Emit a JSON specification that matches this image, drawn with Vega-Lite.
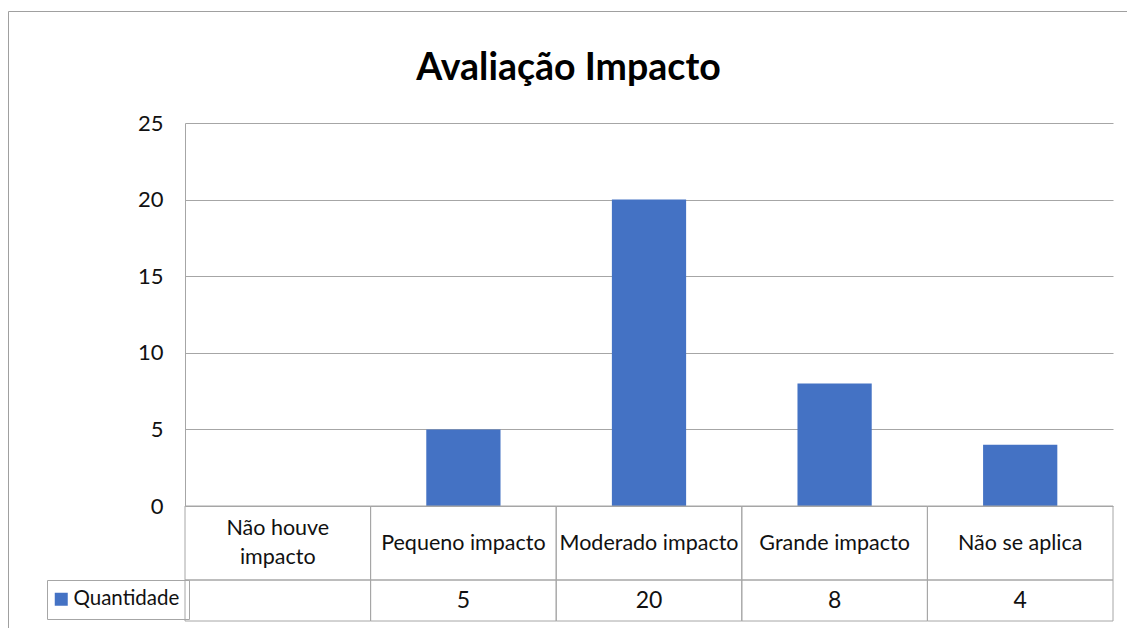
{
  "$schema": "https://vega.github.io/schema/vega-lite/v6.json",
  "width": 1121,
  "height": 619,
  "autosize": {"type": "none"},
  "padding": {"left": 8, "top": 11, "right": -2, "bottom": -2},
  "background": "white",
  "config": {
    "font": "Lato",
    "view": {"stroke": "#a0a0a0", "strokeWidth": 1}
  },
  "title": {
    "text": "Avaliação Impacto",
    "anchor": "middle",
    "offset": -106,
    "baseline": "alphabetic",
    "fontSize": 37.5,
    "fontWeight": "bold",
    "color": "#000000"
  },
  "data": {
    "values": [
      {"categoria": "Não houve impacto", "quantidade": null},
      {"categoria": "Pequeno impacto", "quantidade": 5},
      {"categoria": "Moderado impacto", "quantidade": 20},
      {"categoria": "Grande impacto", "quantidade": 8},
      {"categoria": "Não se aplica", "quantidade": 4}
    ]
  },
  "layer": [
    {
      "mark": {"type": "bar"},
      "encoding": {
        "x": {
          "field": "categoria",
          "type": "nominal",
          "axis": null,
          "scale": {
            "domain": ["Não houve impacto", "Pequeno impacto", "Moderado impacto", "Grande impacto", "Não se aplica"],
            "range": [177, 1105],
            "paddingInner": 0.6,
            "paddingOuter": 0.3
          }
        },
        "y": {
          "field": "quantidade",
          "type": "quantitative",
          "scale": {"domain": [0, 25], "range": [495, 112], "nice": false},
          "axis": {
            "title": null,
            "values": [0, 5, 10, 15, 20, 25],
            "offset": -177,
            "grid": true,
            "gridColor": "#a6a6a6",
            "gridWidth": 1,
            "domain": true,
            "domainColor": "#a6a6a6",
            "ticks": false,
            "labelPadding": 22,
            "labelFontSize": 22,
            "labelColor": "#111111"
          }
        },
        "color": {
          "datum": "Quantidade",
          "scale": {"range": ["#4472C4"]},
          "legend": {
            "title": null,
            "orient": "none",
            "legendX": 39,
            "legendY": 569,
            "padding": 9,
            "strokeColor": "#a6a6a6",
            "symbolType": "square",
            "symbolSize": 169,
            "symbolStrokeWidth": 0,
            "symbolOffset": -5,
            "labelFontSize": 20.5,
            "labelColor": "#111111",
            "labelOffset": 2
          }
        }
      }
    },
    {
      "layer": [
        {
          "layer": [
            {
              "mark": {"type": "rect", "fill": "transparent", "stroke": "#a6a6a6", "strokeWidth": 1},
              "encoding": {
                "x": {
                  "field": "categoria",
                  "type": "nominal",
                  "axis": null,
                  "scale": {
                    "domain": ["Não houve impacto", "Pequeno impacto", "Moderado impacto", "Grande impacto", "Não se aplica"],
                    "range": [177, 1105],
                    "paddingInner": 0,
                    "paddingOuter": 0
                  }
                },
                "y": {"datum": "c", "type": "nominal", "axis": null, "scale": {"domain": ["c"], "range": [495, 569], "paddingInner": 0, "paddingOuter": 0}}
              }
            },
            {
              "transform": [
                {"calculate": "datum.categoria == 'Não houve impacto' ? ['Não houve', 'impacto'] : datum.categoria", "as": "rotulo"}
              ],
              "mark": {
                "type": "text",
                "fontSize": 21.5,
                "color": "#111111",
                "lineBreak": ",",
                "lineHeight": 29,
                "baseline": "middle",
                "dy": {"expr": "datum.categoria == 'Não houve impacto' ? -14 : 1"}
              },
              "encoding": {
                "x": {"field": "categoria", "type": "nominal", "axis": null},
                "y": {"datum": "c", "type": "nominal", "axis": null},
                "text": {"field": "rotulo", "type": "nominal"}
              }
            }
          ]
        },
        {
          "layer": [
            {
              "mark": {"type": "rect", "fill": "transparent", "stroke": "#a6a6a6", "strokeWidth": 1},
              "encoding": {
                "x": {"field": "categoria", "type": "nominal", "axis": null},
                "y": {"datum": "v", "type": "nominal", "axis": null, "scale": {"domain": ["v"], "range": [569, 610], "paddingInner": 0, "paddingOuter": 0}}
              }
            },
            {
              "transform": [{"filter": "isValid(datum.quantidade)"}],
              "mark": {"type": "text", "fontSize": 23, "color": "#111111", "baseline": "middle"},
              "encoding": {
                "x": {"field": "categoria", "type": "nominal", "axis": null},
                "y": {"datum": "v", "type": "nominal", "axis": null},
                "text": {"field": "quantidade", "type": "quantitative"}
              }
            }
          ]
        }
      ],
      "resolve": {"scale": {"y": "independent"}}
    }
  ],
  "resolve": {"scale": {"x": "independent", "y": "independent"}}
}
